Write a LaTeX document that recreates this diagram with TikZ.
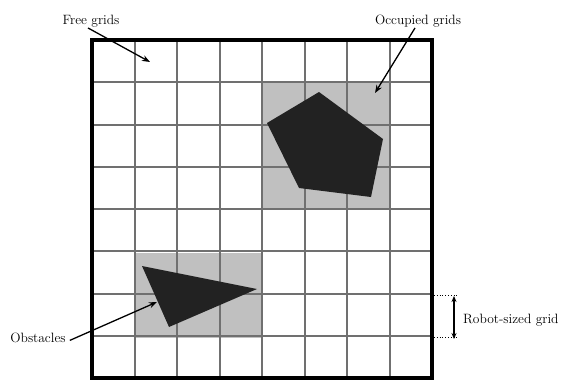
\documentclass[tikz,border=0pt]{standalone}
\usetikzlibrary{arrows.meta}
\definecolor{gridgray}{HTML}{707070}
\definecolor{occfill}{HTML}{C0C0C0}
\definecolor{obsfill}{HTML}{222222}
\begin{document}
\begin{tikzpicture}[x=1pt,y=-1pt,
  lbl/.style={inner sep=1pt,font=\fontsize{13.5}{16}\selectfont},
  ptr/.style={line width=1.3pt,-{Stealth[length=8pt,width=6pt]}},
  gridline/.style={draw=gridgray,line width=2pt},
  obstacle/.style={fill=obsfill,draw=none}]
\useasboundingbox (0,0) rectangle (565,380);
% occupied cells
\fill[occfill] (262,82.5) rectangle (389.5,210);
\fill[occfill] (134.5,252.5) rectangle (262,337.5);
% grid lines
\foreach \i in {1,...,7}{
  \draw[gridline] ({92+42.5*\i},40) -- ({92+42.5*\i},378);
  \draw[gridline] (92,{40+42.25*\i}) -- (432,{40+42.25*\i});
}
% obstacles
\fill[obstacle] (319,92) -- (383,139) -- (371,197) -- (299,188) -- (267,123) -- cycle;
\fill[obstacle] (142,266) -- (257,289) -- (169,327) -- cycle;
% outer border
\draw[line width=4pt] (92,40) rectangle (432,378);
% labels
\node[lbl,anchor=base] (free) at (91,24) {Free grids};
\node[lbl,anchor=base] (occ) at (418,24) {Occupied grids};
\node[lbl,anchor=base] (obs) at (38,342) {Obstacles};
\node[lbl,anchor=base west] (robot) at (462,323) {Robot-sized grid};
\coordinate (freetip) at (150,62);
\coordinate (occtip) at (375,93);
\coordinate (obstip) at (157,302);
\draw[ptr] (free.south) ++(-3,0) -- (freetip);
\draw[ptr] (occ.south) ++(-3,0) -- (occtip);
\draw[ptr] (obs.east) ++(3,3) -- (obstip);
% robot-sized marker
\coordinate (rtop) at (434,295);
\coordinate (rbot) at (434,337.5);
\draw[dotted,line width=0.8pt] (rtop) -- ++(23,0);
\draw[dotted,line width=0.8pt] (rbot) -- ++(23,0);
\coordinate (rat) at (454,296);
\coordinate (rab) at (454,339);
\draw[line width=1.3pt,{Stealth[length=6pt,width=5pt]}-{Stealth[length=6pt,width=5pt]}] (rat) -- (rab);
\end{tikzpicture}
\end{document}
